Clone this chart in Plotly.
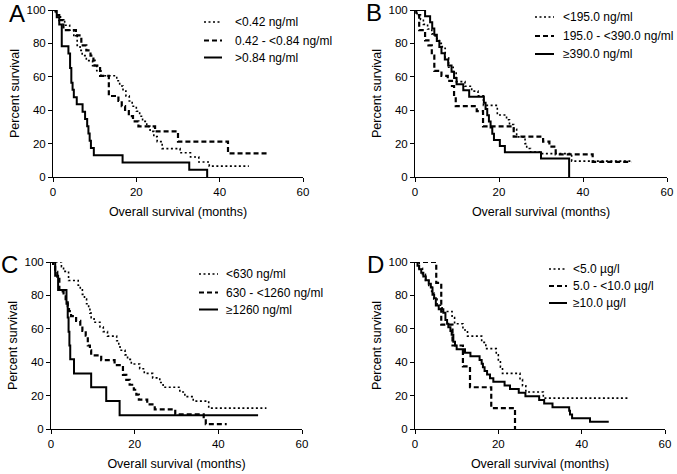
import plotly.graph_objects as go

W, H = 677, 474

# ---------------- data (Kaplan-Meier step points: time in months, percent survival) ----------------
# Panel A
A_lab = ["<0.42 ng/ml", "0.42 - <0.84 ng/ml", ">0.84 ng/ml"]
A1_t = [0, 0.8, 1.8, 2.8, 4.0, 5.0, 5.8, 6.5, 7.0, 8.0, 9.5, 10.5, 11.5, 15.3, 16.0, 16.8, 17.5, 18.3, 19.0, 20.0,
        20.8, 21.5, 22.5, 23.3, 24.2, 25.0, 26.2, 30.5, 33.0, 35.0, 37.5, 47.0]
A1_s = [100, 97.0, 93.9, 90.9, 87.9, 84.8, 78.8, 75.8, 72.7, 69.7, 66.7, 63.6, 60.6, 57.6, 54.5, 51.5, 48.5, 45.5,
        42.4, 39.4, 36.4, 33.3, 30.3, 27.3, 24.2, 21.2, 17.0, 14.5, 12.0, 9.0, 6.5, 6.5]
A2_t = [0, 0.6, 1.5, 2.5, 5.5, 6.8, 8.0, 9.0, 9.7, 10.0, 11.3, 13.4, 15.7, 16.5, 17.3, 18.2, 19.2, 20.5, 24.5, 30.0,
        42.0, 51.5]
A2_s = [100, 97.0, 93.9, 87.9, 84.8, 78.8, 75.8, 72.7, 69.7, 66.7, 60.6, 48.5, 45.5, 42.4, 39.4, 36.4, 33.3, 30.3,
        27.3, 21.2, 14.1, 14.1]
A3_t = [0, 0.9, 1.5, 2.1, 3.7, 4.1, 4.4, 4.7, 5.0, 5.7, 7.1, 7.7, 8.2, 8.5, 8.8, 9.1, 9.8, 16.7, 32.7, 37.0]
A3_s = [100, 95.7, 91.3, 78.3, 73.9, 65.2, 56.5, 52.2, 47.8, 43.5, 39.1, 34.8, 30.4, 26.1, 21.7, 17.4, 13.0, 8.7,
        4.3, 0]

# Panel B
B_lab = ["<195.0 ng/ml", "195.0 - <390.0 ng/ml", "≥390.0 ng/ml"]
B1_t = [0, 0.5, 1.3, 2.0, 3.0, 4.0, 4.8, 5.8, 6.5, 7.2, 8.0, 9.1, 9.8, 11.9, 13.5, 15.0, 16.3, 19.6, 21.8, 22.5,
        23.5, 24.2, 26.2, 26.6, 27.5, 30.0, 37.3, 51.5]
B1_s = [100, 97.1, 94.3, 91.4, 88.6, 85.7, 82.9, 80.0, 77.1, 71.4, 65.7, 62.9, 57.1, 54.3, 51.4, 48.6, 42.9, 37.1,
        34.3, 31.4, 28.6, 24.0, 20.0, 17.1, 15.0, 14.0, 9.5, 9.5]
B2_t = [0, 0.3, 1.0, 2.4, 3.2, 4.0, 4.6, 6.3, 7.8, 8.8, 9.3, 9.7, 14.7, 16.2, 23.5, 30.5, 32.0, 33.5, 42.3, 51.5]
B2_s = [100, 96.9, 87.9, 81.8, 78.8, 72.7, 63.6, 60.6, 57.6, 54.5, 48.5, 42.4, 39.4, 30.3, 24.2, 21.2, 18.2, 13.6,
        9.1, 9.1]
B3_t = [0, 2.4, 3.6, 4.1, 4.6, 5.2, 5.8, 6.3, 7.1, 7.9, 8.7, 9.3, 9.9, 11.5, 12.9, 16.4, 16.8, 17.2, 17.6, 18.0,
        18.4, 18.8, 20.2, 21.4, 30.0, 36.7]
B3_s = [100, 96.3, 92.6, 88.9, 85.2, 81.5, 77.8, 74.1, 70.4, 66.7, 63.0, 59.3, 55.6, 51.9, 48.1, 44.4, 40.7, 37.0,
        33.3, 29.6, 25.9, 22.2, 18.5, 14.8, 11.1, 0]

# Panel C
C_lab = ["<630 ng/ml", "630 - <1260 ng/ml", "≥1260 ng/ml"]
C1_t = [0, 2.5, 3.0, 4.2, 6.5, 7.0, 7.5, 8.0, 8.5, 9.0, 9.3, 9.6, 10.3, 11.7, 12.5, 13.5, 15.7, 16.2, 16.5, 17.7,
        18.3, 19.2, 21.2, 22.3, 24.3, 26.0, 26.8, 30.8, 32.0, 34.0, 37.7, 51.5]
C1_s = [100, 97.2, 94.4, 88.9, 86.1, 83.3, 80.6, 77.8, 75.0, 72.2, 69.4, 66.7, 63.9, 61.1, 58.3, 55.6, 52.8, 50.0,
        47.2, 44.4, 41.7, 38.9, 36.1, 33.3, 30.6, 27.8, 25.0, 22.2, 19.4, 16.7, 12.5, 12.5]
C2_t = [0, 0.5, 1.0, 1.5, 2.0, 3.0, 3.5, 4.0, 4.3, 4.8, 6.0, 7.0, 7.5, 8.3, 8.8, 9.3, 9.6, 12.0, 15.2, 17.2, 18.0,
        18.8, 19.8, 20.4, 21.0, 23.0, 24.8, 29.7, 36.5, 37.0, 42.0]
C2_s = [100, 97.1, 94.1, 91.2, 82.4, 79.4, 76.5, 73.5, 70.6, 67.6, 64.7, 61.8, 58.8, 55.9, 50.0, 47.1, 44.1, 41.2,
        38.2, 32.4, 29.4, 26.5, 23.5, 20.6, 17.6, 14.7, 11.8, 8.8, 5.9, 2.9, 2.9]
C3_t = [0, 1.0, 1.7, 3.7, 4.0, 4.2, 4.4, 4.6, 5.5, 9.6, 13.2, 16.4, 49.5]
C3_s = [100, 91.7, 83.3, 75.0, 66.7, 58.3, 50.0, 41.7, 33.3, 25.0, 16.7, 8.3, 8.3]

# Panel D
D_lab = ["<5.0 µg/l", "5.0 - <10.0 µg/l", "≥10.0 µg/l"]
D1_t = [0, 1.0, 1.8, 2.5, 3.3, 4.0, 4.5, 5.3, 6.5, 8.9, 9.5, 11.5, 12.6, 16.0, 17.0, 19.5, 20.0, 20.5, 21.0, 25.2,
        25.8, 26.6, 30.8, 51.5]
D1_s = [100, 96.3, 92.6, 88.9, 85.2, 81.5, 77.8, 74.1, 70.4, 66.7, 63.0, 59.3, 55.6, 51.9, 48.1, 44.4, 40.7, 37.0,
        33.3, 29.6, 25.9, 22.2, 18.5, 18.5]
D2_t = [0, 5.1, 6.3, 9.0, 11.5, 13.2, 18.3, 24.0]
D2_s = [100, 87.5, 62.5, 50.0, 37.5, 25.0, 12.5, 0]
D3_t = [0, 0.6, 1.0, 1.5, 2.0, 2.6, 3.3, 3.8, 4.2, 4.6, 5.0, 5.7, 6.8, 7.3, 7.7, 8.0, 8.5, 8.8, 9.2, 9.6, 10.0,
        12.0, 13.3, 15.5, 16.0, 16.3, 16.7, 17.3, 18.0, 18.8, 21.5, 22.8, 24.9, 26.5, 29.8, 31.0, 33.0, 37.0,
        37.2, 37.7, 42.0, 46.5]
D3_s = [100, 97.8, 95.7, 93.5, 91.3, 89.1, 87.0, 84.8, 80.4, 78.3, 73.9, 71.7, 69.6, 65.2, 63.0, 60.9, 58.7, 56.5,
        52.2, 50.0, 47.8, 45.7, 43.5, 41.3, 39.1, 37.0, 34.8, 32.6, 30.4, 28.3, 26.1, 23.9, 21.7, 19.6, 17.4, 15.2,
        13.0, 10.9, 8.7, 6.5, 4.3, 4.3]

x_ticks = [0, 20, 40, 60]
y_ticks = [0, 20, 40, 60, 80, 100]
panel_letters = ["A", "B", "C", "D"]
x_title = "Overall survival (months)"
y_title = "Percent survival"

# ---------------- layout geometry (pixels) ----------------
FONT = "Liberation Sans, Arial, sans-serif"
# (left, right, top, bottom) of each plot area in pixels
boxes = [(53, 303, 10, 177), (415, 667, 10, 177), (51, 302, 262, 429), (415, 665, 262, 429)]
# legend: (sample x0, sample x1, text x, [row centers y])
legend_geo = [(204, 222, 233, [22, 40.5, 57.5]),
              (535, 554, 561, [17, 36, 54]),
              (199, 218, 224, [274, 292.5, 309.5]),
              (549, 567, 571, [269, 286, 303])]
letter_pos = [(17, 13), (374, 12), (9, 264), (375, 264)]

styles = [dict(dash="2px,2.5px", width=1.6),
          dict(dash="5px,3px", width=2.2),
          dict(dash="solid", width=2.0)]

panels = [
    (A_lab, [(A1_t, A1_s), (A2_t, A2_s), (A3_t, A3_s)]),
    (B_lab, [(B1_t, B1_s), (B2_t, B2_s), (B3_t, B3_s)]),
    (C_lab, [(C1_t, C1_s), (C2_t, C2_s), (C3_t, C3_s)]),
    (D_lab, [(D1_t, D1_s), (D2_t, D2_s), (D3_t, D3_s)]),
]

fig = go.Figure()
layout = dict(width=W, height=H, autosize=False,
              margin=dict(l=0, r=0, t=0, b=0, pad=0, autoexpand=False),
              paper_bgcolor="white", plot_bgcolor="white", showlegend=False,
              font=dict(family=FONT, color="black", size=11), annotations=[], shapes=[])

for i, ((labels, series), box) in enumerate(zip(panels, boxes)):
    n = i + 1
    xa = "x" if n == 1 else f"x{n}"
    ya = "y" if n == 1 else f"y{n}"
    for lab, (t, s), st in zip(labels, series, styles):
        fig.add_trace(go.Scatter(x=t, y=s, mode="lines", name=lab, xaxis=xa, yaxis=ya,
                                 line=dict(color="black", width=st["width"], dash=st["dash"], shape="hv")))
    l, r, t_, b = box
    axkey = "xaxis" if n == 1 else f"xaxis{n}"
    aykey = "yaxis" if n == 1 else f"yaxis{n}"
    layout[axkey] = dict(domain=[l / W, r / W], range=[0, 60], tickvals=x_ticks, anchor=ya,
                         showline=True, linecolor="black", linewidth=1, ticks="outside", ticklen=4,
                         tickcolor="black", showgrid=False, zeroline=False, automargin=False,
                         tickfont=dict(size=11.5, family=FONT, color="black"),
                         title=dict(text=x_title, font=dict(size=12.5, family=FONT), standoff=10))
    layout[aykey] = dict(domain=[1 - b / H, 1 - t_ / H], range=[0, 100], tickvals=y_ticks, anchor=xa,
                         showline=True, linecolor="black", linewidth=1, ticks="outside", ticklen=4,
                         tickcolor="black", showgrid=False, zeroline=False, automargin=False,
                         tickfont=dict(size=11.5, family=FONT, color="black"),
                         title=dict(text=y_title, font=dict(size=12.5, family=FONT), standoff=4))
    # legend (drawn as sample lines + text)
    sx0, sx1, tx, rows = legend_geo[i]
    for lab, st, ry in zip(labels, styles, rows):
        layout["shapes"].append(dict(type="line", xref="paper", yref="paper",
                                     x0=sx0 / W, x1=sx1 / W, y0=1 - ry / H, y1=1 - ry / H,
                                     line=dict(color="black", width=st["width"], dash=st["dash"])))
        layout["annotations"].append(dict(text=lab, x=tx / W, y=1 - ry / H, xref="paper", yref="paper",
                                          showarrow=False, xanchor="left", yanchor="middle",
                                          font=dict(size=12, family=FONT, color="black")))
    px, py = letter_pos[i]
    layout["annotations"].append(dict(text=panel_letters[i], x=px / W, y=1 - py / H, xref="paper", yref="paper",
                                      showarrow=False, xanchor="center", yanchor="middle",
                                      font=dict(size=24, family=FONT, color="black")))

fig.update_layout(**layout)
fig.write_html("out.html", config={"displayModeBar": False},
               post_script="document.body.style.margin='0';document.body.style.overflow='hidden';")
